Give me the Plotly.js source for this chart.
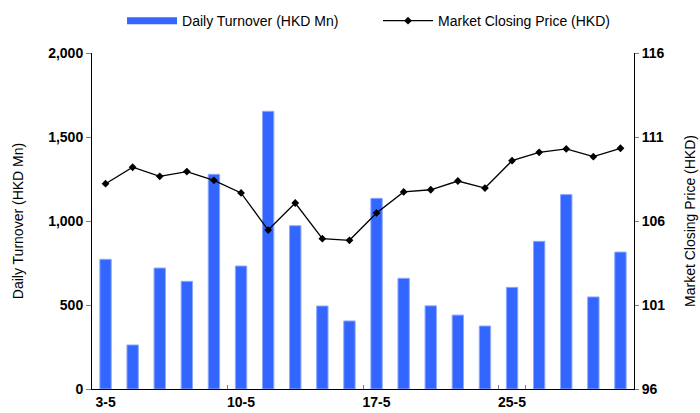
<!DOCTYPE html>
<html><head><meta charset="utf-8">
<script src="https://cdn.plot.ly/plotly-3.0.1.min.js"></script>
<style>html,body{margin:0;padding:0;background:#fff}#chart{width:700px;height:413px}</style>
</head><body><div id="chart"></div>
<script>
const dates = ['3-5','4-5','5-5','6-5','7-5','10-5','11-5','12-5','13-5','14-5','17-5','18-5','19-5','20-5','24-5','25-5','26-5','27-5','28-5','31-5'];
const turnover = [772, 262, 720, 641, 1278, 732, 1653, 972, 494, 405, 1135, 659, 495, 440, 375, 605, 879, 1157, 548, 815];
const closingPrice = [108.22, 109.2, 108.66, 108.94, 108.42, 107.67, 105.46, 107.07, 104.95, 104.85, 106.48, 107.73, 107.86, 108.38, 107.96, 109.59, 110.09, 110.29, 109.83, 110.33];
const tickDates = ['3-5','10-5','17-5','25-5'];

const font = 'Liberation Sans, Arial, sans-serif';
const tickFont = {family:font, size:14, color:'#000', weight:'bold'};
const traces = [
  {type:'bar', x: dates, y: turnover, name:'Daily Turnover (HKD Mn)', showlegend:false,
   marker:{color:'#3366FF', line:{color:'#8fa8ff', width:1}}, width:0.42, yaxis:'y'},
  {type:'scatter', mode:'lines', x:[null], y:[null], name:'Daily Turnover (HKD Mn)',
   line:{color:'#3366FF', width:7}, yaxis:'y', hoverinfo:'skip'},
  {type:'scatter', mode:'lines+markers', x: dates, y: closingPrice, name:'Market Closing Price (HKD)',
   line:{color:'#000', width:1.3}, marker:{symbol:'diamond', size:6, color:'#000'}, yaxis:'y2'}
];
const layout = {
  width:700, height:413,
  margin:{l:92, r:66, t:53, b:24, autoexpand:false},
  paper_bgcolor:'#fff', plot_bgcolor:'#fff',
  font:{family:font, size:14, color:'#000'},
  showlegend:true,
  legend:{orientation:'h', x:0.0554, xanchor:'left', y:1.095, yanchor:'middle',
          font:{family:font, size:14, color:'#000'}, itemwidth:50, entrywidth:191, tracegroupgap:0},
  xaxis:{type:'category', tickvals: tickDates, ticktext: tickDates, tickson:'boundaries', tickangle:0,
         ticks:'inside', ticklen:4, tickcolor:'#808080', showline:true, linecolor:'#000', linewidth:1,
         showgrid:false, zeroline:false, tickfont:tickFont, automargin:false,
         range:[-0.5, dates.length-0.5]},
  yaxis:{range:[0,2000], dtick:500, tickformat:',', ticks:'outside', ticklen:5, tickcolor:'#808080',
         showline:true, linecolor:'#000', linewidth:1, showgrid:false, zeroline:false, automargin:false,
         tickfont:tickFont,
         title:{text:'Daily Turnover (HKD Mn)', font:{family:font, size:14, color:'#000'}, standoff:21}},
  yaxis2:{range:[96,116], tick0:96, dtick:5, overlaying:'y', side:'right', ticks:'outside', ticklen:4, tickcolor:'#808080',
         showline:true, linecolor:'#000', linewidth:1, showgrid:false, zeroline:false, automargin:false,
         tickfont:tickFont,
         title:{text:'Market Closing Price (HKD)', font:{family:font, size:14, color:'#000'}, standoff:20}}
};
Plotly.newPlot('chart', traces, layout, {displayModeBar:false, staticPlot:true});
</script></body></html>
